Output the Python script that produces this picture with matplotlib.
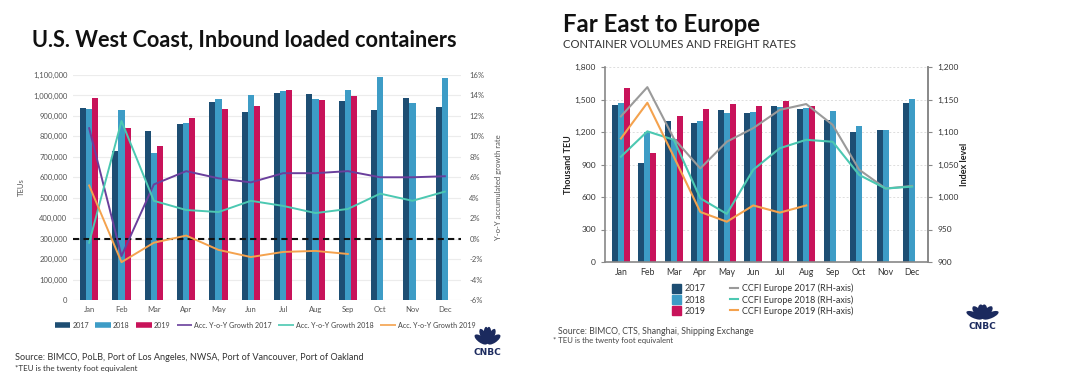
import numpy as np
import matplotlib
matplotlib.use("Agg")
import matplotlib.pyplot as plt
from matplotlib.lines import Line2D
from matplotlib.patches import Patch, Ellipse

# Chart data
months = ["Jan", "Feb", "Mar", "Apr", "May", "Jun", "Jul", "Aug", "Sep", "Oct", "Nov", "Dec"]

# U.S. West Coast inbound loaded containers (TEUs)
usw_2017 = [940000, 730000, 826000, 862000, 970000, 921000, 1011000, 1007000, 971000, 929000, 989000, 945000]
usw_2018 = [936000, 929000, 720000, 866000, 985000, 1004000, 1022000, 983000, 1027000, 1089000, 962000, 1084000]
usw_2019 = [986000, 839000, 753000, 888000, 934000, 949000, 1027000, 978000, 998000]

# Acc. Y-o-Y growth (%)
usw_growth_2017 = [10.8, -1.7, 5.3, 6.6, 5.9, 5.5, 6.4, 6.4, 6.6, 6.0, 6.0, 6.1]
usw_growth_2018 = [-0.4, 11.5, 3.7, 2.8, 2.6, 3.7, 3.2, 2.5, 2.9, 4.4, 3.7, 4.6]
usw_growth_2019 = [5.2, -2.3, -0.4, 0.3, -1.1, -1.8, -1.3, -1.2, -1.5]

# Far East to Europe volumes (thousand TEU)
fe_2017 = [1446, 917, 1298, 1280, 1400, 1375, 1437, 1409, 1311, 1200, 1215, 1465]
fe_2018 = [1465, 1203, 1132, 1305, 1375, 1382, 1428, 1418, 1391, 1252, 1215, 1505]
fe_2019 = [1606, 1006, 1351, 1415, 1458, 1437, 1483, 1443]

# CCFI Europe index
ccfi_2017 = [1124, 1169, 1090, 1044, 1085, 1106, 1134, 1143, 1111, 1042, 1013, 1017]
ccfi_2018 = [1062, 1101, 1088, 998, 974, 1042, 1075, 1088, 1085, 1034, 1013, 1016]
ccfi_2019 = [1090, 1145, 1062, 977, 962, 987, 976, 987]

c17, c18, c19 = "#1d4e73", "#3d9cc6", "#c8135a"
purple, teal, orange = "#6a3f9c", "#4cc8b2", "#f4a24e"
grey_line = "#9a9a9a"

plt.rcParams["font.family"] = ["Lato", "DejaVu Sans"]

fig = plt.figure(figsize=(10.72, 3.75), dpi=100)
W, H = 1072, 375


def box(x0, y0, x1, y1):
    return [x0 / W, 1 - y1 / H, (x1 - x0) / W, (y1 - y0) / H]


def cnbc_logo(x0, y0, x1, y1):
    lax = fig.add_axes(box(x0, y0, x1, y1))
    lax.set_xlim(-1.2, 1.2)
    lax.set_ylim(-0.95, 1.25)
    lax.axis("off")
    for ang in [150, 120, 96, 84, 60, 30]:
        a = np.deg2rad(ang)
        lax.add_patch(Ellipse((0.55 * np.cos(a), 0.55 * np.sin(a)), 0.42, 1.05,
                              angle=ang - 90, color="#1b2a5e", lw=0))
    lax.text(0, -0.55, "CNBC", ha="center", va="center", fontsize=6.5,
             fontweight="bold", color="#1b2a5e", family="DejaVu Sans")


x = np.arange(12)

# ---------------- Left chart ----------------
ax = fig.add_axes(box(73, 75, 461, 300))
bw = 0.19
ax.bar(x - bw, usw_2017, bw, color=c17, zorder=2)
ax.bar(x, usw_2018, bw, color=c18, zorder=2)
ax.bar(np.arange(len(usw_2019)) + bw, usw_2019, bw, color=c19, zorder=2)
ax.set_xlim(-0.5, 11.5)
ax.set_ylim(0, 1100000)
ax.set_yticks(np.arange(0, 1100001, 100000))
ax.set_yticklabels([f"{v:,}" for v in range(0, 1100001, 100000)])
ax.set_xticks(x)
ax.set_xticklabels(months)
ax.grid(axis="y", color="#ececec", lw=0.8, zorder=0)
for s in ax.spines.values():
    s.set_visible(False)
ax.tick_params(length=0, labelsize=5.5, colors="#555555", pad=4)
ax.set_ylabel("TEUs", fontsize=5.5, color="#555555", labelpad=6)

ax2 = ax.twinx()
ax2.set_ylim(-6, 16)
ax2.set_yticks(np.arange(-6, 17, 2))
ax2.set_yticklabels([f"{v}%" for v in range(-6, 17, 2)])
for s in ax2.spines.values():
    s.set_visible(False)
ax2.tick_params(length=0, labelsize=5.5, colors="#555555", pad=6)
ax2.set_ylabel("Y-o-Y accumulated growth rate", fontsize=5.5, color="#555555", labelpad=8)
ax2.axhline(0, color="#111111", lw=1.5, ls=(0, (3, 2)), zorder=1)
ax2.plot(x, usw_growth_2017, color=purple, lw=1.4, solid_joinstyle="round")
ax2.plot(x, usw_growth_2018, color=teal, lw=1.4, solid_joinstyle="round")
ax2.plot(np.arange(len(usw_growth_2019)), usw_growth_2019, color=orange, lw=1.4,
         solid_joinstyle="round")

fig.text(32 / W, 1 - 40 / H, "U.S. West Coast, Inbound loaded containers", fontsize=15.7,
         fontweight="bold", color="#111111", va="center", ha="left")

left_handles = [Line2D([], [], color=c17, lw=4, solid_capstyle="butt"),
                Line2D([], [], color=c18, lw=4, solid_capstyle="butt"),
                Line2D([], [], color=c19, lw=4, solid_capstyle="butt"),
                Line2D([], [], color=purple, lw=1.2, solid_capstyle="butt"),
                Line2D([], [], color=teal, lw=1.2, solid_capstyle="butt"),
                Line2D([], [], color=orange, lw=1.2, solid_capstyle="butt")]
left_labels = ["2017", "2018", "2019", "Acc. Y-o-Y Growth 2017", "Acc. Y-o-Y Growth 2018",
               "Acc. Y-o-Y Growth 2019"]
fig.legend(left_handles, left_labels, loc="center", bbox_to_anchor=(265 / W, 1 - 325 / H),
           ncol=6, frameon=False, fontsize=5.1, handlelength=2.2, handletextpad=0.3,
           columnspacing=0.9, labelcolor="#444444")

fig.text(15 / W, 1 - 357 / H,
         "Source: BIMCO, PoLB, Port of Los Angeles, NWSA, Port of Vancouver, Port of Oakland",
         fontsize=6.6, color="#333333", va="center")
fig.text(15 / W, 1 - 368 / H, "*TEU is the twenty foot equivalent", fontsize=5.8,
         color="#333333", va="center")
cnbc_logo(471, 324, 504, 359)

# ---------------- Right chart ----------------
bx = fig.add_axes(box(605, 67, 928, 262))
bw2 = 0.23
bx.bar(x - bw2, fe_2017, bw2, color=c17, zorder=2)
bx.bar(x, fe_2018, bw2, color=c18, zorder=2)
bx.bar(np.arange(len(fe_2019)) + bw2, fe_2019, bw2, color=c19, zorder=2)
bx.set_xlim(-0.6, 11.6)
bx.set_ylim(0, 1800)
bx.set_yticks(np.arange(0, 1801, 300))
bx.set_yticklabels([f"{v:,}" for v in range(0, 1801, 300)])
bx.set_xticks(x)
bx.set_xticklabels(months)
bx.grid(axis="y", color="#dddddd", lw=0.7, ls=(0, (2, 2)), zorder=0)
bx.spines["top"].set_visible(False)
for side in ["left", "bottom", "right"]:
    bx.spines[side].set_color("#888888")
    bx.spines[side].set_linewidth(1.2)
bx.tick_params(axis="y", length=3, width=0.8, color="#888888", labelsize=6, labelcolor="#333333")
bx.tick_params(axis="x", length=0, labelsize=6.3, labelcolor="#333333", pad=4)
bx.set_ylabel("Thousand TEU", fontsize=6.5, color="#222222", fontweight="bold", labelpad=1)

bx2 = bx.twinx()
bx2.set_ylim(900, 1200)
bx2.set_yticks(np.arange(900, 1201, 50))
bx2.set_yticklabels([f"{v:,}" for v in range(900, 1201, 50)])
bx2.spines["top"].set_visible(False)
bx2.spines["left"].set_visible(False)
bx2.spines["bottom"].set_visible(False)
bx2.spines["right"].set_color("#888888")
bx2.spines["right"].set_linewidth(1.2)
bx2.tick_params(axis="y", length=3, width=0.8, color="#888888", labelsize=6, labelcolor="#333333")
bx2.set_ylabel("Index level", fontsize=6.5, color="#222222", fontweight="bold", labelpad=1)
bx2.plot(x, ccfi_2017, color=grey_line, lw=1.5, solid_joinstyle="round")
bx2.plot(x, ccfi_2018, color=teal, lw=1.5, solid_joinstyle="round")
bx2.plot(np.arange(len(ccfi_2019)), ccfi_2019, color=orange, lw=1.5, solid_joinstyle="round")

fig.text(563 / W, 1 - 25 / H, "Far East to Europe", fontsize=17.3, fontweight="bold",
         color="#111111", va="center", ha="left")
fig.text(563 / W, 1 - 45 / H, "CONTAINER VOLUMES AND FREIGHT RATES", fontsize=8.1,
         color="#333333", va="center", ha="left")

right_handles = [Patch(color=c17), Patch(color=c18), Patch(color=c19),
                 Line2D([], [], color=grey_line, lw=1.5), Line2D([], [], color=teal, lw=1.5),
                 Line2D([], [], color=orange, lw=1.5)]
right_labels = ["2017", "2018", "2019", "CCFI Europe 2017 (RH-axis)",
                "CCFI Europe 2018 (RH-axis)", "CCFI Europe 2019 (RH-axis)"]
fig.legend(right_handles, right_labels, loc="center", bbox_to_anchor=(763 / W, 1 - 300 / H),
           ncol=2, frameon=False, fontsize=6.5, handlelength=0.9, handleheight=1.1,
           handletextpad=0.5, columnspacing=2.6, labelspacing=0.2, labelcolor="#333333")

fig.text(558 / W, 1 - 331 / H, "Source: BIMCO, CTS, Shanghai, Shipping Exchange", fontsize=6.3,
         color="#444444", va="center")
fig.text(553 / W, 1 - 340 / H, "* TEU is the twenty foot equivalent", fontsize=5.6,
         color="#444444", va="center")
cnbc_logo(962, 302, 1003, 332)

fig.savefig("out.png", dpi=100)
